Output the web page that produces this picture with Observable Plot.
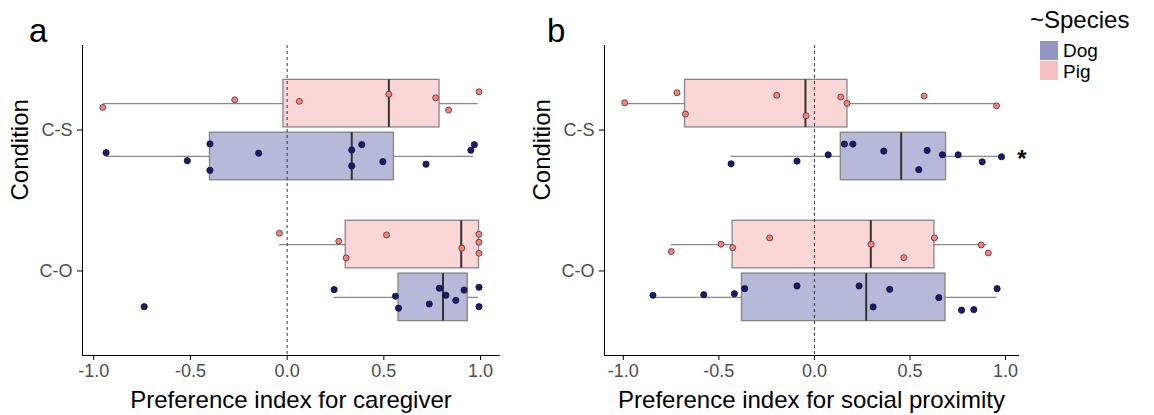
<!DOCTYPE html>
<html>
<head>
<meta charset="utf-8">
<script src="https://cdn.jsdelivr.net/npm/d3@7"></script>
<script src="https://cdn.jsdelivr.net/npm/@observablehq/plot@0.6"></script>
<style>
  body { margin: 0; background: #fff; font-family: "Liberation Sans", Arial, sans-serif; }
  #wrap { position: relative; width: 1154px; height: 415px; overflow: hidden; }
  #wrap > svg, #wrap > div { position: absolute; top: 0; }
  #wrap g[aria-label*="axis"] text { fill: #4d4d4d; }
</style>
</head>
<body>
<div id="wrap"></div>
<script>
// ---------- categories ----------
const conditions = ["C-O", "C-S"];          // bottom to top
const species = ["Dog", "Pig"];
const xTicks = [-1, -0.5, 0, 0.5, 1];

// ---------- Panel a: preference index for caregiver ----------
// individual values and vertical jitter (in category units)
const caregiverPigCS = [-0.953, -0.271, 0.063, 0.526, 0.768, 0.835, 0.992];
const caregiverPigCSJitter = [-0.027, 0.027, 0.016, 0.067, 0.041, -0.046, 0.084];
const caregiverDogCS = [-0.936, -0.516, -0.399, -0.399, -0.147, 0.334, 0.334, 0.386, 0.495, 0.718, 0.950, 0.968];
const caregiverDogCSJitter = [0.027, -0.030, 0.089, -0.098, 0.023, 0.046, -0.067, 0.084, -0.037, -0.055, 0.044, 0.084];
const caregiverPigCO = [-0.040, 0.267, 0.305, 0.514, 0.903, 0.992, 0.992, 0.992];
const caregiverPigCOJitter = [0.080, 0.023, -0.095, 0.068, -0.026, 0.073, 0.016, -0.062];
const caregiverDogCO = [-0.739, 0.243, 0.560, 0.576, 0.735, 0.787, 0.821, 0.872, 0.915, 0.992, 0.992];
const caregiverDogCOJitter = [-0.066, 0.055, 0.008, -0.077, -0.047, 0.065, 0.015, -0.021, 0.052, 0.072, -0.066];
// box statistics: condition, species, lower whisker, Q1, median, Q3, upper whisker
const caregiverBoxStats = [
  ["C-S", "Pig", -0.950, -0.019, 0.526, 0.788, 0.989],
  ["C-S", "Dog", -0.936, -0.399, 0.334, 0.552, 0.963],
  ["C-O", "Pig", -0.040, 0.303, 0.900, 0.992, 0.992],
  ["C-O", "Dog", 0.243, 0.576, 0.806, 0.934, 0.989]
];

// ---------- Panel b: preference index for social proximity ----------
const proximityPigCS = [-0.993, -0.719, -0.675, -0.197, -0.044, 0.138, 0.171, 0.574, 0.953];
const proximityPigCSJitter = [0.006, 0.077, -0.074, 0.059, -0.086, 0.047, 0.002, 0.054, -0.015];
const proximityDogCS = [-0.436, -0.091, 0.072, 0.157, 0.201, 0.363, 0.546, 0.590, 0.670, 0.752, 0.878, 0.979];
const proximityDogCSJitter = [-0.052, -0.033, 0.012, 0.088, 0.088, 0.038, -0.094, 0.043, 0.012, 0.012, -0.038, -0.002];
const proximityPigCO = [-0.749, -0.489, -0.428, -0.234, 0.297, 0.468, 0.628, 0.873, 0.910];
const proximityPigCOJitter = [-0.050, 0.002, -0.022, 0.047, 0.002, -0.093, 0.047, -0.003, -0.060];
const proximityDogCO = [-0.845, -0.579, -0.419, -0.365, -0.091, 0.234, 0.307, 0.394, 0.651, 0.770, 0.834, 0.956];
const proximityDogCOJitter = [0.015, 0.019, 0.026, 0.062, 0.081, 0.081, -0.068, 0.057, -0.002, -0.091, -0.087, 0.062];
const proximityBoxStats = [
  ["C-S", "Pig", -0.993, -0.677, -0.047, 0.173, 0.953],
  ["C-S", "Dog", -0.436, 0.138, 0.454, 0.689, 0.979],
  ["C-O", "Pig", -0.749, -0.428, 0.295, 0.628, 0.904],
  ["C-O", "Dog", -0.845, -0.379, 0.271, 0.686, 0.956]
];
const proximitySignificance = [["C-S", "Dog", "*"]];

// ---------- styling ----------
const boxFill = {Dog: "#b8b8d8", Pig: "#fbd6d6"};
const dotFill = {Dog: "#1a1a6e", Pig: "#f2837f"};
const legendFill = {Dog: "#9393c4", Pig: "#f7c0c0"};
const FONT = "Liberation Sans, Arial, sans-serif";

// ---------- helpers ----------
const DODGE = 0.1875, HALF = 0.16875;
function catPos(cond, sp) {
  return conditions.indexOf(cond) + 1 + (sp === "Pig" ? DODGE : -DODGE);
}
function pts(cond, sp, values, jitter) {
  return values.map((v, i) => ({condition: cond, species: sp, value: v, jitter: jitter[i]}));
}
function boxes(stats) {
  return stats.map(([condition, sp, lo, q1, med, q3, hi]) => ({condition, species: sp, lo, q1, med, q3, hi}));
}

function panel({boxStats, points, domain, width, marginLeft, marginRight, xLabel, notes = []}) {
  const B = boxes(boxStats);
  const yc = d => catPos(d.condition, d.species);
  return Plot.plot({
    width, height: 415, marginLeft, marginRight, marginTop: 45, marginBottom: 60,
    style: {fontFamily: FONT, fontSize: "18px", color: "#000", background: "transparent", overflow: "visible"},
    x: {domain, ticks: xTicks, tickFormat: d => d.toFixed(1), tickSize: 5, tickPadding: 4, line: true, label: null},
    y: {domain: [0.4, 2.6], ticks: [1, 2], tickFormat: v => conditions[v - 1], tickSize: 5, tickPadding: 5, line: true, label: null},
    marks: [
      Plot.ruleY(B, {y: yc, x1: "lo", x2: "hi", stroke: "#888", strokeWidth: 1.3}),
      Plot.rectX(B, {x1: "q1", x2: "q3", y1: d => yc(d) - HALF, y2: d => yc(d) + HALF,
        fill: d => boxFill[d.species], stroke: "#858585", strokeWidth: 1.3}),
      Plot.ruleX(B, {x: "med", y1: d => yc(d) - HALF, y2: d => yc(d) + HALF, stroke: "#333", strokeWidth: 2}),
      Plot.ruleX([0], {stroke: "#333", strokeDasharray: "3,3", strokeWidth: 1}),
      Plot.dot(points, {x: "value", y: d => yc(d) + d.jitter,
        r: d => d.species === "Dog" ? 4.6 : 4.3,
        fill: d => dotFill[d.species], stroke: d => d.species === "Dog" ? "#0a0a3a" : "#5a2a2a", strokeWidth: 0.8}),
      Plot.text(notes, {y: d => catPos(d[0], d[1]), text: d => d[2], frameAnchor: "right", dx: 8, dy: 3,
        fontSize: 24, fontWeight: "bold", fill: "#000"}),
      Plot.text([xLabel], {text: d => d, frameAnchor: "bottom", dy: 52, fontSize: 24, fill: "#000"}),
      Plot.text(["Condition"], {text: d => d, frameAnchor: "left", dx: -62, rotate: -90, fontSize: 24, fill: "#000"})
    ]
  });
}

const caregiverPoints = [
  ...pts("C-S", "Pig", caregiverPigCS, caregiverPigCSJitter),
  ...pts("C-S", "Dog", caregiverDogCS, caregiverDogCSJitter),
  ...pts("C-O", "Pig", caregiverPigCO, caregiverPigCOJitter),
  ...pts("C-O", "Dog", caregiverDogCO, caregiverDogCOJitter)
];
const proximityPoints = [
  ...pts("C-S", "Pig", proximityPigCS, proximityPigCSJitter),
  ...pts("C-S", "Dog", proximityDogCS, proximityDogCSJitter),
  ...pts("C-O", "Pig", proximityPigCO, proximityPigCOJitter),
  ...pts("C-O", "Dog", proximityDogCO, proximityDogCOJitter)
];

const wrap = document.getElementById("wrap");

const pa = panel({boxStats: caregiverBoxStats, points: caregiverPoints, domain: [-1.058, 1.098],
  width: 520, marginLeft: 82, marginRight: 21, xLabel: "Preference index for caregiver"});
pa.style.left = "0px";
wrap.appendChild(pa);

const pb = panel({boxStats: proximityBoxStats, points: proximityPoints, domain: [-1.0985, 1.068],
  width: 534, marginLeft: 84, marginRight: 36, xLabel: "Preference index for social proximity",
  notes: proximitySignificance});
pb.style.left = "520px";
wrap.appendChild(pb);

// panel tags and legend overlay
const ns = "http://www.w3.org/2000/svg";
const ov = document.createElementNS(ns, "svg");
ov.setAttribute("width", 1154); ov.setAttribute("height", 415);
ov.style.left = "0px"; ov.style.pointerEvents = "none";
function txt(x, y, s, size, fill = "#000") {
  const t = document.createElementNS(ns, "text");
  t.setAttribute("x", x); t.setAttribute("y", y);
  t.setAttribute("font-family", FONT); t.setAttribute("font-size", size);
  t.setAttribute("fill", fill); t.textContent = s; ov.appendChild(t);
}
txt(29, 42, "a", 33);
txt(547, 42, "b", 33);
txt(1030, 28, "~Species", 24);
species.forEach((s, i) => {
  const r = document.createElementNS(ns, "rect");
  r.setAttribute("x", 1040); r.setAttribute("y", 41 + i * 20);
  r.setAttribute("width", 18); r.setAttribute("height", 19);
  r.setAttribute("fill", legendFill[s]); ov.appendChild(r);
  txt(1063, 57 + i * 21, s, 19);
});
wrap.appendChild(ov);
</script>
</body>
</html>
